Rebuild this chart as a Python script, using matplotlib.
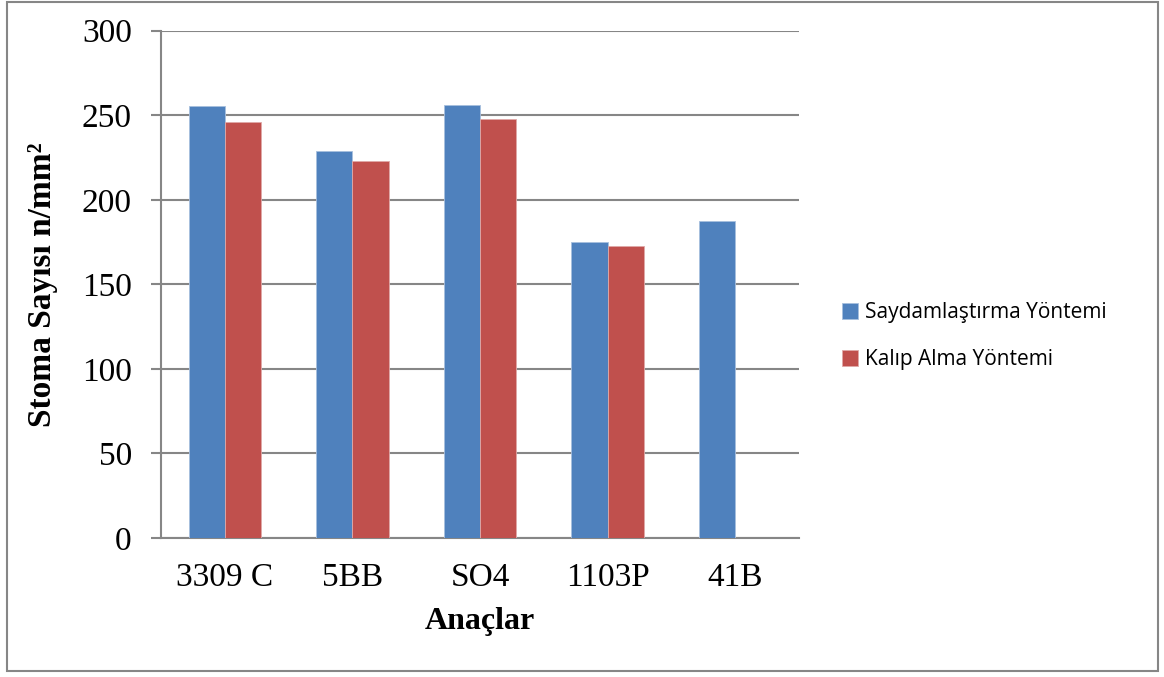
import matplotlib.pyplot as plt
import numpy as np
from matplotlib.patches import Rectangle


categories = ["3309 C", "5BB", "SO4", "1103P", "41B"]
saydam = [255.7, 228.7, 255.9, 174.8, 187.2]
kalip = [246.3, 223.2, 247.6, 172.4, np.nan]
series_names = ["Saydamlaştırma Yöntemi", "Kalıp Alma Yöntemi"]
y_ticks = [0, 50, 100, 150, 200, 250, 300]

BLUE = "#4F81BD"
RED = "#C0504D"
GRID = "#868686"

fig = plt.figure(figsize=(11.64, 6.77), dpi=100)
ax = fig.add_axes([161 / 1164, 1 - 538 / 677, 638 / 1164, 507.3 / 677])

x = np.arange(len(categories))
w = 0.283
ax.bar(x - w / 2, saydam, w, color=BLUE, edgecolor="#a7bfde", linewidth=0.6,
       label=series_names[0], zorder=3)
ax.bar(x + w / 2, kalip, w, color=RED, edgecolor="#e0a9a8", linewidth=0.6,
       label=series_names[1], zorder=3)

ax.set_xlim(-0.5, len(categories) - 0.5)
ax.set_ylim(0, 300)
ax.set_yticks(y_ticks)
ax.set_xticks(x)
ax.set_xticklabels(categories)

ax.grid(axis="y", color=GRID, linewidth=1.5, zorder=0)
for side in ["top", "right"]:
    ax.spines[side].set_visible(False)
for side in ["left", "bottom"]:
    ax.spines[side].set_color(GRID)
    ax.spines[side].set_linewidth(1.5)

serif = "Liberation Serif"
ax.tick_params(axis="y", length=7, width=1.5, color=GRID, pad=14)
ax.tick_params(axis="x", length=0, pad=18)
for lbl in ax.get_xticklabels() + ax.get_yticklabels():
    lbl.set_fontfamily(serif)
    lbl.set_fontsize(24)

ax.set_ylabel("Stoma Sayısı n/mm²", fontfamily=serif, fontsize=24,
              fontweight="bold", labelpad=17)
ax.set_xlabel("Anaçlar", fontfamily=serif, fontsize=23, fontweight="bold",
              labelpad=10)

fig.legend(loc="center left", bbox_to_anchor=(823 / 1164, 1 - 336 / 677),
           frameon=False, prop={"family": "Open Sans", "size": 15},
           handlelength=0.8, handleheight=0.8, handletextpad=0.3,
           labelspacing=1.25)

# outer border of the chart
fig.patches.append(Rectangle((7 / 1164, 6 / 677), 1151 / 1164, 669 / 677,
                             transform=fig.transFigure, fill=False,
                             edgecolor=GRID, linewidth=1.5))

fig.savefig("out.png", dpi=100, facecolor="white")
